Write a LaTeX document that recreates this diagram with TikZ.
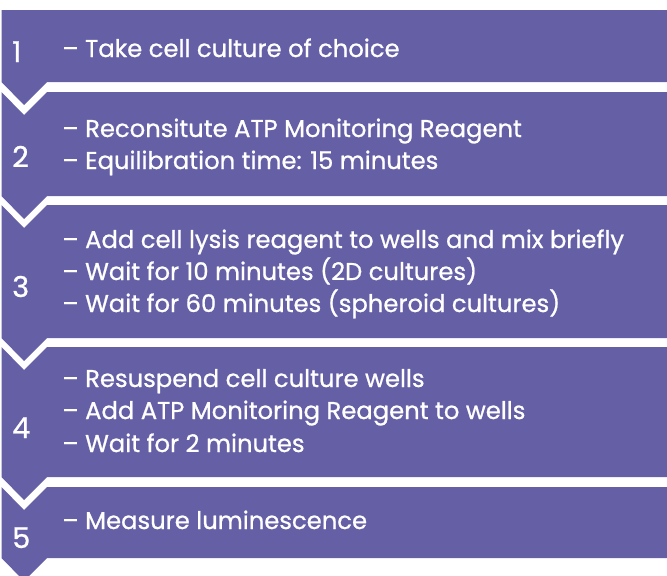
\documentclass[tikz,border=0pt]{standalone}
\usepackage{fontspec}
\setmainfont{Poppins}[FakeBold=0.8]
\usepackage{xcolor}
\usetikzlibrary{calc}
\definecolor{bandpurple}{RGB}{101,95,166}

\begin{document}
\begin{tikzpicture}[x=0.75pt,y=0.75pt,yscale=-1,xscale=1,
	steptext/.style={anchor=base west, inner sep=0pt, text=white, font=\fontsize{18.2}{22}\selectfont},
	stepnum/.style={anchor=base west, inner sep=0pt, text=white, font=\fontsize{21.5}{26}\selectfont}]
	\useasboundingbox (0,0) rectangle (667,575); %keep the full 667x575 frame

	%the five chevron bands, top to bottom
	\fill [bandpurple] (1.5,10) -- (667,10) -- (667,82) -- (47,82) -- (24,105) -- (1.5,82) -- cycle;
	\fill [bandpurple] (1.5,92) -- (24,115) -- (47,92) -- (667,92) -- (667,196) -- (47,196) -- (24,219) -- (1.5,196) -- cycle;
	\fill [bandpurple] (1.5,205) -- (24,228) -- (47,205) -- (667,205) -- (667,338) -- (47,338) -- (24,361) -- (1.5,338) -- cycle;
	\fill [bandpurple] (1.5,347) -- (24,370) -- (47,347) -- (667,347) -- (667,477) -- (47,477) -- (24,500) -- (1.5,477) -- cycle;
	\fill [bandpurple] (1.5,487) -- (24,510) -- (47,487) -- (667,487) -- (667,558) -- (47,558) -- (24,581) -- (1.5,558) -- cycle;

	\node [stepnum] (n1) at (12,62) {1};
	\node [steptext] (t1) at (62,57) {– Take cell culture of choice};

	\node [stepnum] (n2) at (12,167) {2};
	\node [steptext] (t2a) at (62,137) {– Reconsitute ATP Monitoring Reagent};
	\node [steptext] (t2b) at (62,169) {– Equilibration time: 15 minutes};

	\node [stepnum] (n3) at (12,297) {3};
	\node [steptext] (t3a) at (62,248) {– Add cell lysis reagent to wells and mix briefly};
	\node [steptext] (t3b) at (62,280) {– Wait for 10 minutes (2D cultures)};
	\node [steptext] (t3c) at (62,312) {– Wait for 60 minutes (spheroid cultures)};

	\node [stepnum] (n4) at (12,438) {4};
	\node [steptext] (t4a) at (62,387) {– Resuspend cell culture wells};
	\node [steptext] (t4b) at (62,419) {– Add ATP Monitoring Reagent to wells};
	\node [steptext] (t4c) at (62,452) {– Wait for 2 minutes};

	\node [stepnum] (n5) at (12,548) {5};
	\node [steptext] (t5) at (62,529) {– Measure luminescence};
\end{tikzpicture}
\end{document}
